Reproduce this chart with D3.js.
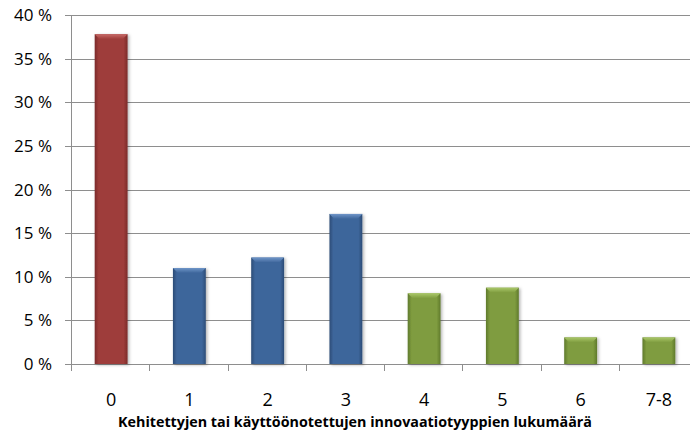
<!DOCTYPE html>
<html><head><meta charset="utf-8">
<script src="https://cdn.jsdelivr.net/npm/d3@7/dist/d3.min.js"></script>
<style>body{margin:0;background:#fff}svg{display:block}</style>
</head><body>
<svg id="c" width="690" height="437"></svg>
<script>
const categories = ["0","1","2","3","4","5","6","7-8"];
const values = [37.8, 11.0, 12.2, 17.2, 8.1, 8.75, 3.05, 3.05];
const groups = ["red","blue","blue","blue","green","green","green","green"];
const yTicks = [0,5,10,15,20,25,30,35,40];
const xTitle = "Kehitettyjen tai käyttöönotettujen innovaatiotyyppien lukumäärä";

const palette = {
  red:   {main:"#9e3c3a", dark:"#7a2b2a", light:"#c86a67"},
  blue:  {main:"#3e669b", dark:"#2c4c77", light:"#6f95c8"},
  green: {main:"#7f9c3f", dark:"#5f7a2c", light:"#aac86a"}
};

const svg = d3.select("#c");
const pLeft = 72, pRight = 698, pTop = 15, pBottom = 364;

const x = d3.scaleBand().domain(categories).range([pLeft, pRight]).paddingInner(0.58).paddingOuter(0.29);
const y = d3.scaleLinear().domain([0,40]).range([pBottom, pTop]);

const defs = svg.append("defs");
Object.entries(palette).forEach(([k,c]) => {
  const g = defs.append("linearGradient").attr("id","h-"+k).attr("x1","0").attr("x2","1").attr("y1","0").attr("y2","0");
  g.append("stop").attr("offset","0").attr("stop-color",c.dark);
  g.append("stop").attr("offset","0.12").attr("stop-color",c.main);
  g.append("stop").attr("offset","0.88").attr("stop-color",c.main);
  g.append("stop").attr("offset","1").attr("stop-color",c.dark);
  const t = defs.append("linearGradient").attr("id","t-"+k).attr("x1","0").attr("x2","0").attr("y1","0").attr("y2","1");
  t.append("stop").attr("offset","0").attr("stop-color",c.light);
  t.append("stop").attr("offset","1").attr("stop-color",c.main);
});
const f = defs.append("filter").attr("id","sh").attr("x","-20%").attr("y","-20%").attr("width","150%").attr("height","150%");
f.append("feDropShadow").attr("dx",1.5).attr("dy",1).attr("stdDeviation",1.5).attr("flood-color","#000").attr("flood-opacity",0.3);

// gridlines
svg.append("g").selectAll("line").data(yTicks).join("line")
  .attr("x1", pLeft - 7).attr("x2", 690)
  .attr("y1", d => Math.round(y(d)) + 0.5).attr("y2", d => Math.round(y(d)) + 0.5)
  .attr("stroke", "#8e8e8e").attr("stroke-width", 1);

// y axis line
svg.append("line").attr("x1", pLeft-0.5).attr("x2", pLeft-0.5).attr("y1", pTop).attr("y2", pBottom + 0.5)
  .attr("stroke","#8e8e8e");

// x ticks at category boundaries
const bounds = d3.range(categories.length + 1).map(i => pLeft + i * x.step());
svg.append("g").selectAll("line").data(bounds).join("line")
  .attr("x1", d => Math.round(d) - 0.5).attr("x2", d => Math.round(d) - 0.5)
  .attr("y1", pBottom).attr("y2", pBottom + 7)
  .attr("stroke","#8e8e8e");

// y labels
svg.append("g").selectAll("text").data(yTicks).join("text")
  .attr("x", 52).attr("y", d => y(d) + 6)
  .attr("text-anchor","end")
  .attr("font-family","'Open Sans', sans-serif").attr("font-size", 17).attr("fill","#000")
  .text(d => d + " %");

// bars
const bars = svg.append("g").selectAll("g").data(categories).join("g").attr("filter","url(#sh)");
bars.append("rect")
  .attr("x", d => x(d)).attr("width", x.bandwidth())
  .attr("y", (d,i) => y(values[i])).attr("height", (d,i) => pBottom - y(values[i]))
  .attr("fill", (d,i) => "url(#h-" + groups[i] + ")");
bars.append("path")
  .attr("d", (d,i) => {
    const x0 = x(d), x1 = x0 + x.bandwidth(), yt = y(values[i]), b = 5;
    return `M${x0},${yt}L${x1},${yt}L${x1-b},${yt+b}L${x0+b},${yt+b}Z`;
  })
  .attr("fill", (d,i) => "url(#t-" + groups[i] + ")");

// x labels
svg.append("g").selectAll("text").data(categories).join("text")
  .attr("x", d => x(d) + x.bandwidth()/2).attr("y", 406)
  .attr("text-anchor","middle")
  .attr("font-family","'Open Sans', sans-serif").attr("font-size", 18).attr("fill","#000")
  .text(d => d);

// x title
const tt = svg.append("text").attr("x", 355).attr("y", 427)
  .attr("text-anchor","middle")
  .attr("font-family","'Open Sans', sans-serif").attr("font-weight","bold").attr("font-size", 13).attr("fill","#000")
  .text(xTitle);
const w = tt.node().getComputedTextLength();
tt.attr("font-size", 13 * 474 / w);
</script>
</body></html>
